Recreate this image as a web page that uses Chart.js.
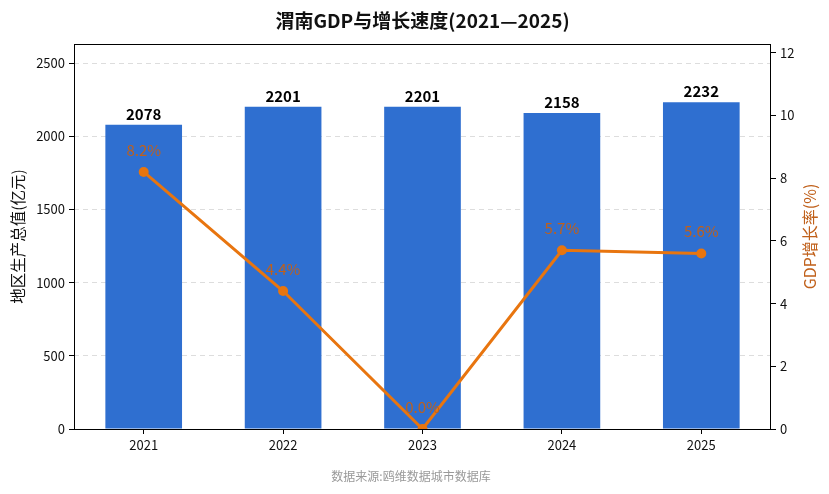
<!DOCTYPE html>
<html><head><meta charset="utf-8">
<script src="https://cdn.jsdelivr.net/npm/chart.js@4"></script>
<style>html,body{margin:0;padding:0;background:#fff}#w{width:829px;height:494px}</style>
</head><body><div id="w"><canvas id="c"></canvas></div>
<script>
const categories = ['2021','2022','2023','2024','2025'];
const gdpValues = [2078, 2201, 2201, 2158, 2232];
const growthRates = [8.2, 4.4, 0.0, 5.7, 5.6];
const leftTicks = [0, 500, 1000, 1500, 2000, 2500];
const rightTicks = [0, 2, 4, 6, 8, 10, 12];
const titleText = '渭南GDP与增长速度(2021—2025)';
const sourceText = '数据来源:鸥维数据城市数据库';
const leftTitle = '地区生产总值(亿元)';
const rightTitle = 'GDP增长率(%)';

const FONT = '"Noto Sans CJK SC", "Noto Sans", sans-serif';
const BAR_COLOR = '#2F6FD0';
const LINE_COLOR = '#E8750F';
const LABEL_COLOR = '#C0601A';

const decor = {
  id: 'decor',
  afterDatasetsDraw(chart) {
    const ctx = chart.ctx, a = chart.chartArea;
    ctx.save();
    const barMeta = chart.getDatasetMeta(0);
    ctx.font = 'bold 15px ' + FONT;
    ctx.fillStyle = '#000';
    ctx.textAlign = 'center';
    ctx.textBaseline = 'middle';
    barMeta.data.forEach((el, i) => {
      ctx.fillText(String(gdpValues[i]), el.x, el.y - 11);
    });
    const lineMeta = chart.getDatasetMeta(1);
    ctx.font = '15px ' + FONT;
    ctx.fillStyle = LABEL_COLOR;
    ctx.textBaseline = 'middle';
    lineMeta.data.forEach((el, i) => {
      ctx.fillText(growthRates[i].toFixed(1) + '%', el.x, el.y - 22);
    });
    ctx.restore();
  },
  afterDraw(chart) {
    const ctx = chart.ctx, a = chart.chartArea;
    ctx.save();
    ctx.strokeStyle = '#000';
    ctx.lineWidth = 1;
    ctx.strokeRect(Math.round(a.left) + 0.5, Math.round(a.top) + 0.5, Math.round(a.right - a.left) - 1, Math.round(a.bottom - a.top));
    ctx.fillStyle = '#111';
    ctx.font = 'bold 19px ' + FONT;
    ctx.textAlign = 'center';
    ctx.textBaseline = 'middle';
    ctx.fillText(titleText, (a.left + a.right) / 2, 21);
    ctx.font = '12px ' + FONT;
    ctx.fillStyle = '#999';
    ctx.fillText(sourceText, 411, 476);
    ctx.font = '15.5px ' + FONT;
    ctx.fillStyle = '#111';
    ctx.save();
    ctx.translate(18, (a.top + a.bottom) / 2);
    ctx.rotate(-Math.PI / 2);
    ctx.fillText(leftTitle, 0, 0);
    ctx.restore();
    ctx.font = '16px ' + FONT;
    ctx.fillStyle = LABEL_COLOR;
    ctx.save();
    ctx.translate(810, (a.top + a.bottom) / 2);
    ctx.rotate(-Math.PI / 2);
    ctx.fillText(rightTitle, 0, 0);
    ctx.restore();
    ctx.restore();
  }
};

new Chart(document.getElementById('c'), {
  data: {
    labels: categories,
    datasets: [
      { type: 'bar', data: gdpValues, backgroundColor: BAR_COLOR, yAxisID: 'y', barPercentage: 0.55, categoryPercentage: 1.0, order: 2 },
      { type: 'line', data: growthRates, borderColor: LINE_COLOR, backgroundColor: LINE_COLOR, borderWidth: 3, pointRadius: 5, pointHoverRadius: 5, pointBackgroundColor: LINE_COLOR, pointBorderWidth: 0, yAxisID: 'y1', order: 1, tension: 0, clip: 1 }
    ]
  },
  options: {
    responsive: true, maintainAspectRatio: false, animation: false,
    devicePixelRatio: 1,
    layout: { padding: { top: 44, left: 0, right: 0, bottom: 0 } },
    plugins: { legend: { display: false }, tooltip: { enabled: false }, title: { display: false } },
    scales: {
      x: {
        grid: { display: true, offset: false, drawOnChartArea: false, tickLength: 5, color: '#000', tickColor: '#000' },
        border: { display: false },
        ticks: { color: '#111', font: { family: FONT, size: 13 }, padding: 3 },
        afterFit(s) { s.height = 65; }
      },
      y: {
        position: 'left', min: 0, max: 2630,
        afterBuildTicks(s) { s.ticks = leftTicks.map(v => ({ value: v })); },
        grid: { color: '#dddddd', tickBorderDash: [], tickColor: '#000', tickLength: 5, lineWidth: 1 },
        border: { display: false, dash: [5, 4] },
        ticks: { color: '#111', font: { family: FONT, size: 13 }, padding: 4, callback: v => String(v) },
        afterFit(s) { s.width = 74; }
      },
      y1: {
        position: 'right', min: 0, max: 12.28,
        afterBuildTicks(s) { s.ticks = rightTicks.map(v => ({ value: v })); },
        grid: { drawOnChartArea: false, tickLength: 5, color: '#000', tickColor: '#000' },
        border: { display: false },
        ticks: { color: '#111', font: { family: FONT, size: 13 }, padding: 4, callback: v => String(v) },
        afterFit(s) { s.width = 58; }
      }
    }
  },
  plugins: [decor]
});
</script>
</body></html>
